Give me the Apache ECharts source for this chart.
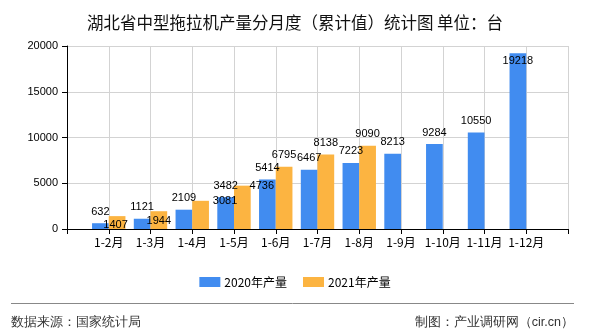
<!DOCTYPE html>
<html>
<head>
<meta charset="utf-8">
<script src="https://cdn.jsdelivr.net/npm/echarts@6/dist/echarts.min.js"></script>
<style>
html,body{margin:0;padding:0;background:#fff;}
#chart{width:590px;height:330px;}
</style>
</head>
<body>
<div id="chart"></div>
<script>
const categories = ['1-2月','1-3月','1-4月','1-5月','1-6月','1-7月','1-8月','1-9月','1-10月','1-11月','1-12月'];
const values2020 = [632, 1121, 2109, 3482, 5414, 6467, 7223, 8213, 9284, 10550, 19218];
const values2021 = [1407, 1944, 3081, 4736, 6795, 8138, 9090];
const seriesNames = ['2020年产量', '2021年产量'];
const yTicks = [0, 5000, 10000, 15000, 20000];

// label nudges (style only) keyed by category index
const shift2021 = {0: [-1.5, 20.5], 1: [0, 21.5], 2: [24.5, 12], 3: [19.5, 12]};
const shift2020 = {10: [0, 19]};

const xData = [''].concat(categories, ['']);
function pad(arr) {
  const out = [null];
  for (let i = 0; i < categories.length; i++) out.push(i < arr.length ? arr[i] : null);
  out.push(null);
  return out;
}

const FONT = "'Noto Sans CJK SC', 'Liberation Sans', sans-serif";
const chart = echarts.init(document.getElementById('chart'), null, {renderer: 'canvas'});

function layoutFn(shifts) {
  return function (p) {
    const s = shifts[p.dataIndex - 1];
    return s ? {dx: s[0], dy: s[1]} : {};
  };
}

const labelCfg = {
  show: true, position: 'top', distance: 6,
  color: '#000', fontSize: 11, fontFamily: "'Liberation Sans', sans-serif",
  formatter: p => p.value == null ? '' : String(p.value)
};

chart.setOption({
  animation: false,
  backgroundColor: '#fff',
  title: {
    text: '湖北省中型拖拉机产量分月度（累计值）统计图 单位：台',
    left: 'center', top: 9,
    textStyle: {fontSize: 16.5, fontWeight: 'normal', color: '#111', fontFamily: FONT}
  },
  legend: {
    data: seriesNames,
    left: 'center', top: 271,
    itemWidth: 21, itemHeight: 10, itemGap: 16,
    icon: 'rect',
    textStyle: {fontSize: 12, color: '#000', fontFamily: FONT, padding: [0, 0, 0, -1]}
  },
  grid: {left: 67, right: 22, top: 46, bottom: 101, containLabel: false},
  xAxis: {
    type: 'category',
    data: xData,
    boundaryGap: false,
    axisLine: {show: true, lineStyle: {color: '#000', width: 1}},
    axisTick: {show: true, length: 5, inside: false, interval: 0, lineStyle: {color: '#000'}},
    axisLabel: {interval: 0, color: '#000', fontSize: 12, margin: 7, fontFamily: FONT},
    splitLine: {show: true, interval: 0, lineStyle: {color: '#d3d3d3', width: 1}}
  },
  yAxis: {
    type: 'value',
    min: yTicks[0], max: yTicks[yTicks.length - 1], interval: yTicks[1] - yTicks[0],
    axisLine: {show: true, lineStyle: {color: '#000', width: 1}},
    axisTick: {show: true, length: 5, lineStyle: {color: '#000'}},
    axisLabel: {color: '#000', fontSize: 11, margin: 9, fontFamily: "'Liberation Sans', sans-serif",
      formatter: v => String(v)},
    splitLine: {show: true, lineStyle: {color: '#d3d3d3', width: 1}}
  },
  series: [
    {
      name: seriesNames[0], type: 'bar', data: pad(values2020),
      barGap: '0%', barCategoryGap: '20%',
      itemStyle: {color: '#418CF0'},
      label: labelCfg,
      labelLayout: layoutFn(shift2020)
    },
    {
      name: seriesNames[1], type: 'bar', data: pad(values2021),
      barGap: '0%', barCategoryGap: '20%',
      itemStyle: {color: '#FCB441'},
      label: labelCfg,
      labelLayout: layoutFn(shift2021)
    }
  ],
  graphic: [
    {type: 'line', shape: {x1: 11, y1: 303.5, x2: 574, y2: 303.5}, style: {stroke: '#888', lineWidth: 1}},
    {type: 'text', left: 11, top: 316, style: {text: '数据来源：国家统计局', fontSize: 12.5, fill: '#333', font: "12.5px 'Noto Sans CJK SC', sans-serif"}},
    {type: 'text', right: 16, top: 316, style: {text: '制图：产业调研网（cir.cn）', fontSize: 12.5, fill: '#333', font: "12.5px 'Noto Sans CJK SC', sans-serif"}}
  ]
});
</script>
</body>
</html>
